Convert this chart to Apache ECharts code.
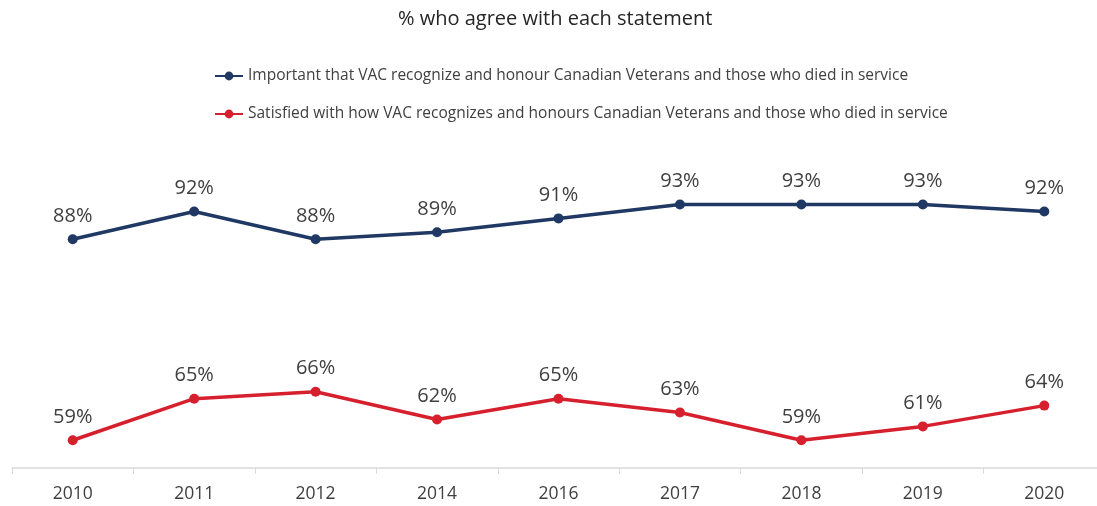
<!DOCTYPE html>
<html>
<head>
<meta charset="utf-8">
<script src="https://cdn.jsdelivr.net/npm/echarts@6/dist/echarts.min.js"></script>
<style>
	html, body { margin: 0; padding: 0; width: 100%; height: 100%; background: #fff; }
	#chartLineBox { width: 1097px; height: 506px; }
</style>
</head>
<body>
<div id="chartLineBox"></div>
<script>
	// 数据
	var years = ['2010', '2011', '2012', '2014', '2016', '2017', '2018', '2019', '2020'];
	var important = [88, 92, 88, 89, 91, 93, 93, 93, 92];
	var satisfied = [59, 65, 66, 62, 65, 63, 59, 61, 64];
	var seriesNames = [
		'Important that VAC recognize and honour Canadian Veterans and those who died in service',
		'Satisfied with how VAC recognizes and honours Canadian Veterans and those who died in service'
	];

	var chartLine = echarts.init(document.getElementById('chartLineBox'));
	var labelStyle = {
		show: true,
		position: 'top',
		distance: 8,
		formatter: '{c}%',
		color: '#404040',
		fontSize: 20,
		fontFamily: 'Open Sans'
	};
	var option = {
		animation: false,
		title: {
			text: '% who agree with each statement',
			left: 393,
			top: 4,
			textStyle: { fontSize: 20, fontWeight: 'normal', color: '#262626', fontFamily: 'Open Sans' }
		},
		legend: {
			orient: 'vertical',
			left: 209,
			top: 63,
			itemGap: 22,
			itemWidth: 28,
			itemHeight: 11,
			textStyle: { fontSize: 15.5, color: '#404040', fontFamily: 'Open Sans' },
			data: seriesNames
		},
		color: ['#203864', '#D7202E'],
		grid: { left: 12, width: 1093, top: 156, bottom: 38, outerBoundsMode: 'none' },
		xAxis: {
			type: 'category',
			data: years,
			axisLine: { lineStyle: { color: '#D9D9D9', width: 1.5 } },
			axisTick: { show: true, lineStyle: { color: '#D9D9D9' }, length: 6 },
			axisLabel: { color: '#404040', fontSize: 17.5, fontFamily: 'Open Sans', margin: 17 }
		},
		yAxis: {
			type: 'value',
			min: 55,
			max: 100,
			show: false,
			splitLine: { show: false }
		},
		series: [{
				name: seriesNames[0],
				type: 'line',
				data: important,
				symbol: 'circle',
				symbolSize: 10,
				lineStyle: { width: 3.5 },
				label: labelStyle
			},
			{
				name: seriesNames[1],
				type: 'line',
				data: satisfied,
				symbol: 'circle',
				symbolSize: 10,
				lineStyle: { width: 3.5 },
				label: labelStyle
			}
		]
	};
	chartLine.setOption(option);
</script>
</body>
</html>
